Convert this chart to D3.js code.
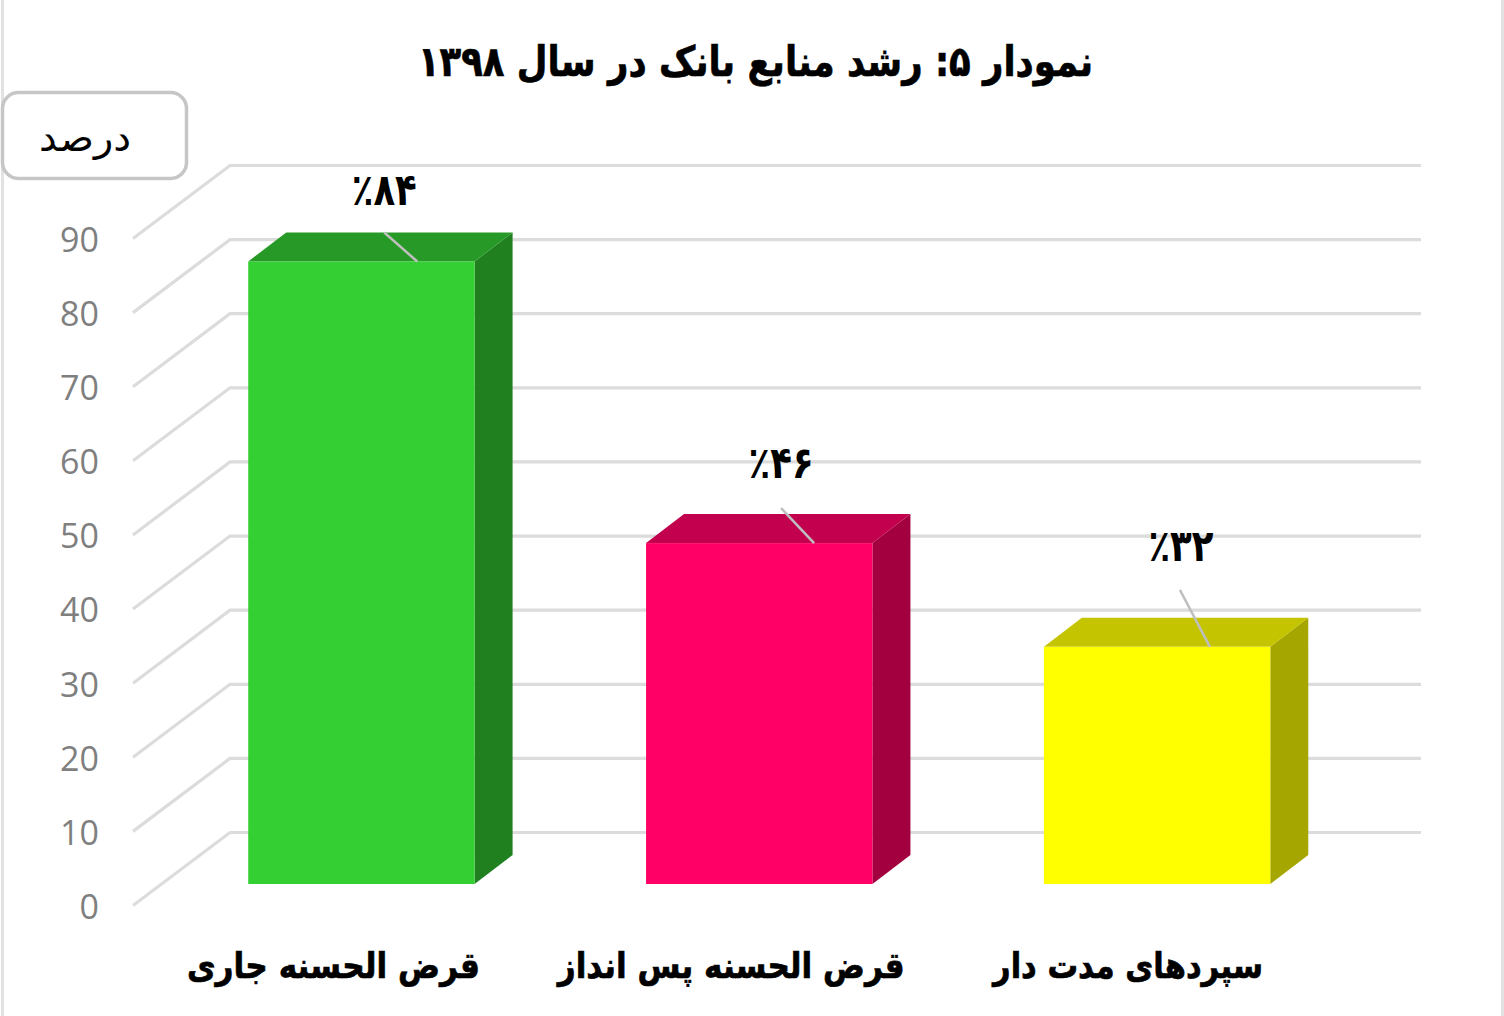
<!DOCTYPE html>
<html lang="fa">
<head>
<meta charset="utf-8">
<script src="https://cdn.jsdelivr.net/npm/d3@7"></script>
<style>
html, body { margin: 0; background: #fff; }
svg { display: block; }
.ar { font-family: "DejaVu Sans", sans-serif; direction: rtl; text-anchor: middle; fill: #000; }
.heavy { font-weight: bold; stroke: #000; stroke-width: 0.7px; }
.y-axis text { font-family: "Open Sans", sans-serif; font-size: 34px; fill: #7f7f7f; }
</style>
</head>
<body>
<svg id="chart" width="1504" height="1016"></svg>
<script>
var titleText = 'نمودار ۵: رشد منابع بانک در سال ۱۳۹۸';
var unitText = 'درصد';
var categories = ['قرض الحسنه جاری', 'قرض الحسنه پس انداز', 'سپردهای مدت دار'];
var values = [84, 46, 32];
var valueLabels = ['٪۸۴', '٪۴۶', '٪۳۲'];
var yTicks = [0, 10, 20, 30, 40, 50, 60, 70, 80, 90];
var frontColors = ['#33cf33', '#ff0066', '#ffff00'];
var topColors = ['#269926', '#c2004e', '#c4c400'];
var sideColors = ['#208020', '#a3003f', '#a6a600'];

var svg = d3.select('#chart');

var y = d3.scaleLinear().domain([0, 90]).range([905, 238]);
var x = d3.scaleBand().domain(categories).range([162.5, 1356])
    .paddingInner(0.431).paddingOuter(0.2155);

// depth of the back wall and of the bars
var wallDx = 97, wallDy = 73;
var barDx = 38, barDy = 29;
var floorShift = 21;   // bars stand a little behind the front edge of the floor

// page edges
svg.append('rect').attr('x', 1).attr('y', 0).attr('width', 3).attr('height', 1016).attr('fill', '#e2e2e2');
svg.append('rect').attr('x', 1501).attr('y', 0).attr('width', 3).attr('height', 1016).attr('fill', '#e2e2e2');

//-----------------------------------------------------------------------------
// grid: floor/side line then the back wall line
var left = 133, right = 1421;
svg.append('g').selectAll('path')
    .data(yTicks)
    .enter().append('path')
    .attr('fill', 'none')
    .attr('stroke', '#dcdcdc')
    .attr('stroke-width', 3.2)
    .attr('transform', 'translate(0,0.5)')
    .attr('d', function(d) {
        return 'M' + left + ',' + y(d) +
            'L' + (left + wallDx) + ',' + (y(d) - wallDy) +
            'L' + right + ',' + (y(d) - wallDy);
    });

// y labels
var yAxis = svg.append('g')
    .attr('class', 'y-axis')
    .attr('transform', 'translate(99,2.5)')
    .call(d3.axisLeft(y).tickValues(yTicks).tickSize(0).tickPadding(0));
yAxis.select('.domain').remove();

//-----------------------------------------------------------------------------
// bars
var base = y(0) - floorShift;
function barTop(v) { return base - (y(0) - y(v)); }

var bars = svg.append('g').selectAll('g')
    .data(values)
    .enter().append('g');

bars.append('path')
    .attr('fill', function(d, i) { return sideColors[i]; })
    .attr('d', function(d, i) {
        var xr = x(categories[i]) + x.bandwidth();
        return 'M' + xr + ',' + base + 'L' + (xr + barDx) + ',' + (base - barDy) +
            'L' + (xr + barDx) + ',' + (barTop(d) - barDy) + 'L' + xr + ',' + barTop(d) + 'Z';
    });

bars.append('path')
    .attr('fill', function(d, i) { return topColors[i]; })
    .attr('d', function(d, i) {
        var xl = x(categories[i]), xr = xl + x.bandwidth(), t = barTop(d);
        return 'M' + xl + ',' + t + 'L' + (xl + barDx) + ',' + (t - barDy) +
            'L' + (xr + barDx) + ',' + (t - barDy) + 'L' + xr + ',' + t + 'Z';
    });

bars.append('rect')
    .attr('x', function(d, i) { return x(categories[i]); })
    .attr('y', function(d) { return barTop(d); })
    .attr('width', x.bandwidth())
    .attr('height', function(d) { return base - barTop(d); })
    .attr('fill', function(d, i) { return frontColors[i]; });

//-----------------------------------------------------------------------------
// leader lines and value labels, offsets are relative to the bar's front top edge
var leaders = [
    {x1: 136, up: 29, x2: 169, labelX: 136, labelUp: 72},
    {x1: 135, up: 35, x2: 168, labelX: 135, labelUp: 81},
    {x1: 136, up: 57, x2: 166, labelX: 137, labelUp: 101}
];

bars.append('line')
    .attr('stroke', '#bfbfbf')
    .attr('stroke-width', 2.5)
    .attr('x1', function(d, i) { return x(categories[i]) + leaders[i].x1; })
    .attr('y1', function(d, i) { return barTop(d) - leaders[i].up; })
    .attr('x2', function(d, i) { return x(categories[i]) + leaders[i].x2; })
    .attr('y2', function(d) { return barTop(d); });

bars.append('text')
    .attr('class', 'ar')
    .attr('font-size', 44)
    .attr('font-weight', 'bold')
    .attr('dominant-baseline', 'central')
    .attr('textLength', 65)
    .attr('lengthAdjust', 'spacingAndGlyphs')
    .attr('x', function(d, i) { return x(categories[i]) + leaders[i].labelX; })
    .attr('y', function(d, i) { return barTop(d) - leaders[i].labelUp; })
    .text(function(d, i) { return valueLabels[i]; });

//-----------------------------------------------------------------------------
// category labels
var labelWidths = [293, 347, 270];
var labelShift = [28, 28, 29];

svg.append('g').selectAll('text')
    .data(categories)
    .enter().append('text')
    .attr('class', 'ar heavy')
    .attr('font-size', 36)
    .attr('textLength', function(d, i) { return labelWidths[i]; })
    .attr('lengthAdjust', 'spacingAndGlyphs')
    .attr('x', function(d, i) { return x(d) + x.bandwidth() / 2 - labelShift[i]; })
    .attr('y', 978)
    .text(function(d) { return d; });

// title
svg.append('text')
    .attr('class', 'ar heavy')
    .attr('font-size', 42)
    .attr('textLength', 675)
    .attr('lengthAdjust', 'spacingAndGlyphs')
    .attr('x', 755.5)
    .attr('y', 76)
    .text(titleText);

// unit box
svg.append('rect')
    .attr('x', 2.5).attr('y', 92.5)
    .attr('width', 184).attr('height', 86)
    .attr('rx', 16)
    .attr('fill', '#fff')
    .attr('stroke', '#c6c6c6')
    .attr('stroke-width', 3.5);

svg.append('text')
    .attr('class', 'ar')
    .attr('font-size', 38)
    .attr('textLength', 92)
    .attr('lengthAdjust', 'spacingAndGlyphs')
    .attr('x', 85)
    .attr('y', 151)
    .text(unitText);
</script>
</body>
</html>
